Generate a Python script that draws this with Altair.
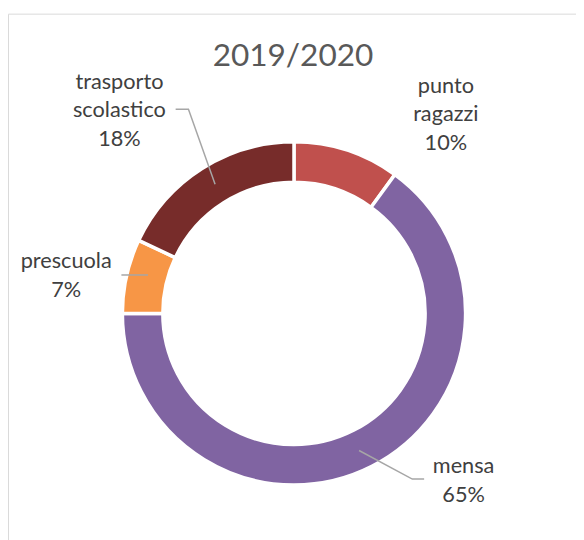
import altair as alt
import pandas as pd

# ---- data ----
categories = ["punto ragazzi", "mensa", "prescuola", "trasporto scolastico"]
label_names = ["punto\nragazzi", "mensa", "prescuola", "trasporto\nscolastico"]
values = [10, 65, 7, 18]
colors = ["#C0504D", "#8064A2", "#F79646", "#772C2A"]
title_text = "2019/2020"

# ---- layout (plot coords = page coords - 8) ----
CX, CY = 290, 306
R_IN, R_OUT = 133, 174
label_pos = {  # x center, first-line baseline
    "punto ragazzi": (444, 82),
    "mensa": (462, 468),
    "prescuola": (59, 260),
    "trasporto scolastico": (113, 78),
}
leaders = {
    "mensa": [(356, 445), (410, 474), (422, 474)],
    "prescuola": [(142, 267), (115, 267)],
    "trasporto scolastico": [(210, 175), (183, 99), (170, 99)],
}

df = pd.DataFrame({"category": categories, "value": values, "idx": range(len(categories))})

lab = pd.DataFrame({
    "category": categories,
    "text": [f"{n}\n{v}%" for n, v in zip(label_names, values)],
    "lx": [label_pos[c][0] for c in categories],
    "ly": [label_pos[c][1] for c in categories],
})

rows = []
for c, pts in leaders.items():
    for i, (x, y) in enumerate(pts):
        rows.append({"g": c, "i": i, "x": x, "y": y})
lead = pd.DataFrame(rows)

FONT = "Lato"

frame = alt.Chart(pd.DataFrame({"a": [0]})).mark_rect(
    fill=None, stroke="#D9D9D9", strokeWidth=1
).encode(x=alt.value(0.5), x2=alt.value(800), y=alt.value(2.5), y2=alt.value(800))

arcs = alt.Chart(df).mark_arc(
    innerRadius=R_IN, outerRadius=R_OUT, stroke="white", strokeWidth=3.5
).encode(
    theta=alt.Theta("value:Q", stack=True),
    color=alt.Color("category:N", scale=alt.Scale(domain=categories, range=colors), legend=None),
    order=alt.Order("idx:Q"),
    x=alt.value(CX),
    y=alt.value(CY),
)

lines = alt.Chart(lead).mark_line(color="#A6A6A6", strokeWidth=1.5).encode(
    x=alt.X("x:Q", scale=None, axis=None),
    y=alt.Y("y:Q", scale=None, axis=None),
    detail="g:N",
    order="i:Q",
)

labels = alt.Chart(lab).mark_text(
    font=FONT, fontSize=22, color="#404040", align="center", baseline="alphabetic",
    lineBreak="\n", lineHeight=29,
).encode(
    x=alt.X("lx:Q", scale=None, axis=None),
    y=alt.Y("ly:Q", scale=None, axis=None),
    text="text:N",
)

title = alt.Chart(pd.DataFrame({"t": [title_text]})).mark_text(
    font=FONT, fontSize=32, color="#595959", align="center", baseline="alphabetic"
).encode(x=alt.value(289), y=alt.value(55), text="t:N")

chart = alt.layer(frame, arcs, lines, labels, title).properties(
    width=576, height=532, padding=0, autosize=alt.AutoSizeParams(type="none")
).configure_view(stroke=None)

chart.save("out.html", embed_options={"renderer": "svg", "actions": False})
